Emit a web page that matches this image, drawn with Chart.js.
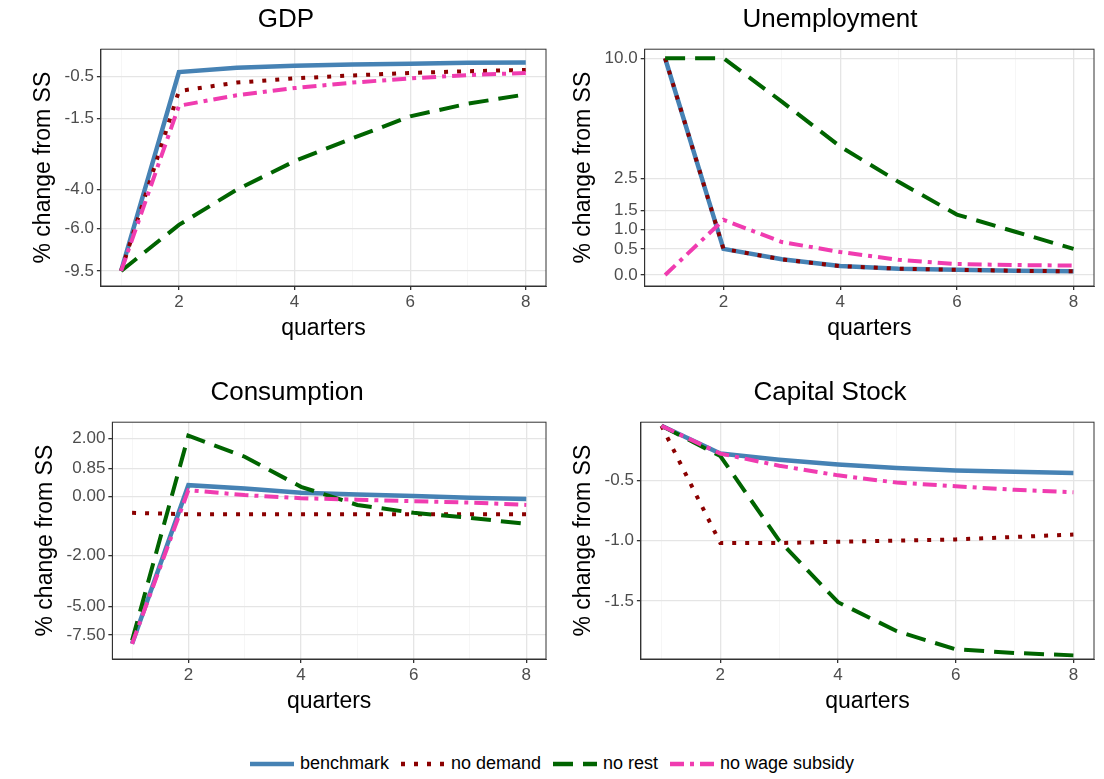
<!DOCTYPE html>
<html><head><meta charset="utf-8">
<script src="https://cdn.jsdelivr.net/npm/chart.js@4"></script>
<style>
body{margin:0;background:#fff;font-family:"Liberation Sans",Arial,sans-serif;}
.p{position:absolute;}
#legend{position:absolute;top:752px;left:0;width:1104px;text-align:center;font-size:18px;color:#000;}
#legend span.item{display:inline-block;margin:0 6px;vertical-align:middle}
#legend svg{vertical-align:middle;margin-right:6px}
</style></head><body>
<div class="p" style="left:0;top:2px;width:552px;height:344px"><canvas id="c0"></canvas></div>
<div class="p" style="left:552px;top:2px;width:552px;height:344px"><canvas id="c1"></canvas></div>
<div class="p" style="left:0;top:375px;width:552px;height:344px"><canvas id="c2"></canvas></div>
<div class="p" style="left:552px;top:375px;width:552px;height:344px"><canvas id="c3"></canvas></div>
<div id="legend"></div>
<script>
const quarters=[1,2,3,4,5,6,7,8];
const seriesNames=["benchmark","no demand","no rest","no wage subsidy"];
const gdpBenchmark=[-9.5,-0.4,-0.3,-0.25,-0.22,-0.2,-0.18,-0.17];
const gdpNoDemand=[-9.5,-0.85,-0.65,-0.55,-0.48,-0.42,-0.38,-0.35];
const gdpNoRest=[-9.5,-5.8,-4.0,-3.0,-2.2,-1.45,-1.15,-0.93];
const gdpNoWage=[-9.5,-1.2,-0.95,-0.78,-0.65,-0.55,-0.47,-0.42];
const unBenchmark=[10,0.5,0.3,0.17,0.12,0.1,0.08,0.07];
const unNoDemand=[10,0.5,0.3,0.17,0.12,0.1,0.08,0.07];
const unNoRest=[10,10,7.3,4.5,2.4,1.4,0.95,0.5];
const unNoWage=[0,1.26,0.68,0.44,0.29,0.21,0.19,0.18];
const conBenchmark=[-8.3,0.35,0.25,0.12,0.07,0.02,-0.03,-0.08];
const conNoDemand=[-0.55,-0.6,-0.6,-0.6,-0.6,-0.6,-0.6,-0.6];
const conNoRest=[-8.0,2.1,1.3,0.3,-0.28,-0.55,-0.72,-0.93];
const conNoWage=[-8.3,0.2,0.05,-0.05,-0.1,-0.15,-0.2,-0.28];
const capBenchmark=[-0.05,-0.28,-0.33,-0.37,-0.4,-0.42,-0.43,-0.44];
const capNoDemand=[-0.05,-1.02,-1.02,-1.01,-1.0,-0.99,-0.97,-0.95];
const capNoRest=[-0.05,-0.3,-1.0,-1.51,-1.75,-1.9,-1.93,-1.95];
const capNoWage=[-0.05,-0.28,-0.38,-0.46,-0.52,-0.55,-0.58,-0.6];
const gdpTicks=[-0.5,-1.5,-4.0,-6.0,-9.5];
const unTicks=[0.0,0.5,1.0,1.5,2.5,10.0];
const conTicks=[-7.5,-5,-2,0,0.85,2];
const capTicks=[-0.5,-1.0,-1.5];
const gdpPos=[-75,-117,-188,-227,-269];
const unPos=[-273,-247,-228,-209,-177,-57];
const conPos=[-631,-603,-552,-494,-466,-436];

const colors=["#4682B4","#8B0000","#006400","#F03CB0"];
const dashes=[[],[4,9],[20,10],[14,6,4,6]];

function makeT(vals,pos){
  const pts=vals.map((v,i)=>[v,pos[i]]).sort((a,b)=>a[0]-b[0]);
  return v=>{
    let i=0; while(i<pts.length-2 && v>pts[i+1][0]) i++;
    const [a,pa]=pts[i],[b,pb]=pts[i+1];
    return pa+(v-a)*(pb-pa)/(b-a);
  };
}
function panel(id,title,series,ticks,labels,T,ymin,ymax,padL,padR){
  const ds=series.map((s,i)=>({label:seriesNames[i],order:4-i,data:quarters.map((q,j)=>({x:q,y:T(s[j])})),
    borderColor:colors[i],borderWidth:i==0?4.5:4,borderDash:dashes[i],pointRadius:0,fill:false,tension:0,borderCapStyle:'butt'}));
  new Chart(document.getElementById(id),{type:'line',data:{datasets:ds},
    options:{responsive:true,maintainAspectRatio:false,animation:false,
      layout:{padding:{left:padL,right:padR,top:0,bottom:0}},
      plugins:{legend:{display:false},tooltip:{enabled:false},
        title:{display:true,text:title,color:'#000',font:{size:26,weight:'normal',family:'Liberation Sans'},padding:{top:2,bottom:14}}},
      scales:{
        x:{type:'linear',min:0.65,max:8.35,
          afterBuildTicks:a=>{a.ticks=quarters.map(v=>({value:v}));},
          ticks:{autoSkip:false,color:'#4D4D4D',font:{size:17},maxRotation:0,padding:2,callback:v=>v%2==0?String(v):''},
          grid:{color:c=>c.tick&&c.tick.value%2==0?'#E5E5E5':'#F2F2F2',lineWidth:c=>c.tick&&c.tick.value%2==0?1.3:0.7,tickColor:c=>c.tick&&c.tick.value%2==0?'#333':'rgba(0,0,0,0)',tickLength:4},
          border:{color:'#333',width:1},
          title:{display:true,text:'quarters',color:'#000',font:{size:23},padding:{top:0}}},
        y:{type:'linear',min:ymin,max:ymax,
          afterBuildTicks:a=>{a.ticks=ticks.map(v=>({value:T(v)}));},
          ticks:{autoSkip:false,color:'#4D4D4D',font:{size:17},padding:3,callback:(v,i)=>labels[i]},
          grid:{color:'#E5E5E5',lineWidth:1.3,tickColor:'#333',tickLength:4},
          border:{color:'#333',width:1},
          title:{display:true,text:'% change from SS',color:'#000',font:{size:23},padding:{bottom:4}}}
      }},
    plugins:[{id:'box',afterDraw(c){const a=c.chartArea,x=c.ctx;x.save();x.strokeStyle='#333';x.lineWidth=1;x.strokeRect(a.left,a.top,a.right-a.left,a.bottom-a.top);x.restore();}}]
  });
}
const id=v=>v;
panel('c0','GDP',[gdpBenchmark,gdpNoDemand,gdpNoRest,gdpNoWage],gdpTicks,gdpTicks.map(v=>v.toFixed(1)),makeT(gdpTicks,gdpPos),-284,-48,26,6);
panel('c1','Unemployment',[unBenchmark,unNoDemand,unNoRest,unNoWage],unTicks,unTicks.map(v=>v.toFixed(1)),makeT(unTicks,unPos),-284,-48,14,10);
panel('c2','Consumption',[conBenchmark,conNoDemand,conNoRest,conNoWage],conTicks,conTicks.map(v=>v.toFixed(2)),makeT(conTicks,conPos),-655,-420,28,6);
panel('c3','Capital Stock',[capBenchmark,capNoDemand,capNoRest,capNoWage],capTicks,capTicks.map(v=>v.toFixed(1)),id,-1.98,-0.02,14,10);

const lg=document.getElementById('legend');
seriesNames.forEach((n,i)=>{
  const s=document.createElement('span');s.className='item';
  s.innerHTML=`<svg width="44" height="10"><line x1="0" y1="5" x2="44" y2="5" stroke="${colors[i]}" stroke-width="4.5" stroke-dasharray="${dashes[i].join(' ')}"/></svg>${n}`;
  lg.appendChild(s);
});
</script></body></html>
